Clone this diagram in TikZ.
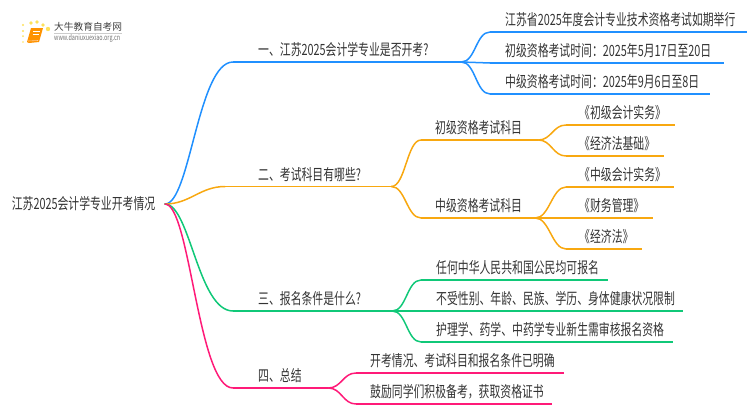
\documentclass[tikz,border=0pt]{standalone}
\usepackage{fontspec}
\setmainfont{Noto Sans CJK SC}[FakeStretch=0.70]
\newfontfamily\logofont{Noto Sans CJK SC}
\definecolor{cblue}{HTML}{2090FF}
\definecolor{corange}{HTML}{F8A810}
\definecolor{cgreen}{HTML}{10C878}
\definecolor{cpink}{HTML}{FF1A78}
\definecolor{ctext}{HTML}{333333}
\tikzset{
  tnode/.style={inner sep=0pt,minimum height=24pt,anchor=south west,text=ctext,font=\fontsize{15.5}{17}\selectfont},
  link/.style={line width=1.5pt,line cap=round},
  under/.style={line width=1.5pt,line cap=butt},
}
% style, name, x0, x1, y of underline, text x, text
\newcommand\mm[7]{%
  \pgfmathsetmacro\mmw{#4-#3}\pgfmathsetmacro\mmo{#6-#3}%
  \node[tnode,text width=\mmw pt] (#2) at (#3,#5) {\makebox[\mmw pt][l]{\hspace*{\mmo pt}#7}};
  \draw[under,#1] (#2.south west) -- (#2.south east);
}
\newcommand\cc[5]{\draw[link,#1] (#2) .. controls +(#4,0) and +(-#5,0) .. (#3);}
\begin{document}
\begin{tikzpicture}[x=1pt,y=-1pt]
\useasboundingbox (0,0) rectangle (750,410);
% logo
\foreach \px/\py/\pr in {23/25/1.2,31/23/1.9,37/22/1.9,43/25/1.9,48/29/2.2,23/31/1.1,23/36/1,23/42/.8}
  \fill[yellow!70!orange,opacity=.65] (\px,\py) circle (\pr);
\fill[orange!85!yellow] (31,28) -- (43,28) -- (39,42) -- (29,43) -- (27,42) -- cycle;
\draw[white,line width=.5pt] (33,31) -- (40,31) (32.5,34) -- (39,34);
\draw[white!60!orange,line width=.6pt] (28,41) -- (38,40.5);
\node[inner sep=0pt,anchor=west,text=black!75,font=\logofont\fontsize{9.7}{11}\selectfont] (logoa) at (54,26.5) {大牛教育自考网};
\node[inner sep=0pt,anchor=west,text=black!55,font=\fontsize{7.8}{8}\selectfont] (logob) at (54,38.5) {www.daniuxuexiao.org.cn};
\draw[black!20,line width=.5pt] (54,33.5) -- (122,33.5);
% root
\node[inner sep=0pt,anchor=east,minimum width=153pt,minimum height=20pt,text=ctext,font=\fontsize{15.5}{17}\selectfont] (root) at (165,204) {\makebox[153pt][l]{江苏2025会计学专业开考情况}};
% branch 1
\mm{cblue}{a}{233}{461}{62}{258}{一、江苏2025会计学专业是否开考?}
\cc{cblue}{root.east}{a.south west}{25}{35}
\mm{cblue}{a1}{490}{747}{32}{505}{江苏省2025年度会计专业技术资格考试如期举行}
\mm{cblue}{a2}{490}{724}{63}{505}{初级资格考试时间：2025年5月17日至20日}
\mm{cblue}{a3}{490}{710}{94}{505}{中级资格考试时间：2025年9月6日至8日}
\cc{cblue}{a.south east}{a1.south west}{14}{14}
\cc{cblue}{a.south east}{a2.south west}{14}{14}
\cc{cblue}{a.south east}{a3.south west}{14}{14}
% branch 2
\mm{corange}{b}{225}{391}{186.5}{258}{二、考试科目有哪些?}
\cc{corange}{root.east}{b.south west}{25}{25}
\mm{corange}{b1}{421}{538}{140}{435}{初级资格考试科目}
\mm{corange}{b2}{421}{535}{218}{435}{中级资格考试科目}
\cc{corange}{b.south east}{b1.south west}{14}{14}
\cc{corange}{b.south east}{b2.south west}{14}{14}
\mm{corange}{b11}{566}{675}{125}{579}{《初级会计实务》}
\mm{corange}{b12}{566}{664}{156}{579}{《经济法基础》}
\cc{corange}{b1.south east}{b11.south west}{13}{13}
\cc{corange}{b1.south east}{b12.south west}{13}{13}
\mm{corange}{b21}{566}{674}{187}{579}{《中级会计实务》}
\mm{corange}{b22}{566}{653}{218}{579}{《财务管理》}
\mm{corange}{b23}{566}{642}{249}{579}{《经济法》}
\cc{corange}{b2.south east}{b21.south west}{14}{14}
\cc{corange}{b2.south east}{b22.south west}{14}{14}
\cc{corange}{b2.south east}{b23.south west}{14}{14}
% branch 3
\mm{cgreen}{c}{233}{392}{311}{258}{三、报名条件是什么?}
\cc{cgreen}{root.east}{c.south west}{25}{35}
\mm{cgreen}{c1}{421}{608}{280}{436}{任何中华人民共和国公民均可报名}
\mm{cgreen}{c2}{421}{683}{311}{436}{不受性别、年龄、民族、学历、身体健康状况限制}
\mm{cgreen}{c3}{421}{673}{342}{436}{护理学、药学、中药学专业新生需审核报名资格}
\cc{cgreen}{c.south east}{c1.south west}{14}{14}
\cc{cgreen}{c.south east}{c2.south west}{14}{14}
\cc{cgreen}{c.south east}{c3.south west}{14}{14}
% branch 4
\mm{cpink}{d}{233}{328}{388}{258}{四、总结}
\cc{cpink}{root.east}{d.south west}{25}{35}
\mm{cpink}{d1}{356}{564}{373}{370}{开考情况、考试科目和报名条件已明确}
\mm{cpink}{d2}{356}{552}{404}{370}{鼓励同学们积极备考，获取资格证书}
\cc{cpink}{d.south east}{d1.south west}{13}{13}
\cc{cpink}{d.south east}{d2.south west}{13}{13}
\end{tikzpicture}
\end{document}
